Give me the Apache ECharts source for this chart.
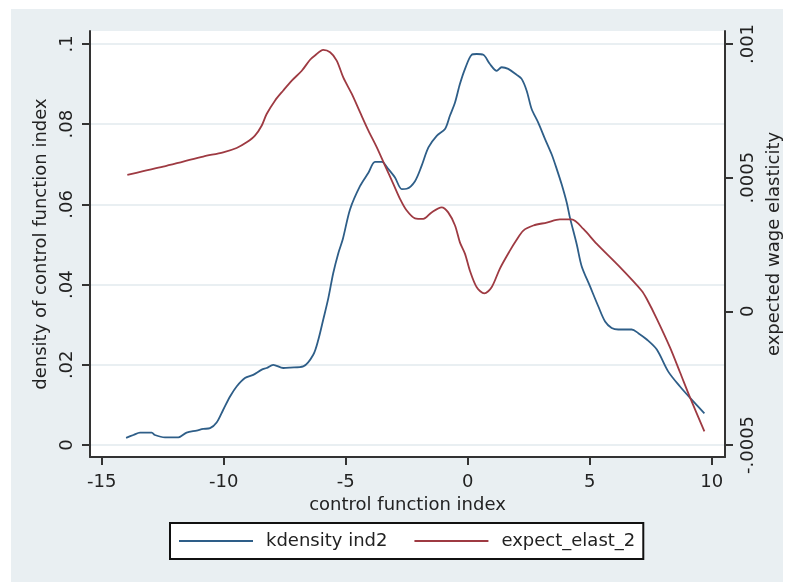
<!DOCTYPE html>
<html>
<head>
<meta charset="utf-8">
<script src="https://cdn.jsdelivr.net/npm/echarts@6/dist/echarts.min.js"></script>
<style>
html,body{margin:0;padding:0;background:#ffffff;}
#bg{position:absolute;left:11px;top:9px;width:772px;height:573px;background:#e9eff2;}
#c{position:absolute;left:0;top:0;width:791px;height:582px;}
</style>
</head>
<body>
<div id="bg"></div>
<div id="c"></div>
<script>
// ---- data ----
const seriesNames = ['kdensity ind2', 'expect_elast_2'];

const xTicks = [-15, -10, -5, 0, 5, 10];
const xTickLabels = ['-15', '-10', '-5', '0', '5', '10'];

const densTicks = [0, 0.02, 0.04, 0.06, 0.08, 0.1];
const densTickLabels = ['0', '.02', '.04', '.06', '.08', '.1'];

const elastTicks = [-0.0005, 0, 0.0005, 0.001];
const elastTickLabels = ['-.0005', '0', '.0005', '.001'];

const densX = [-14.0,-13.70,-13.43,-12.95,-12.82,-12.41,-11.86,-11.52,-11.11,-10.84,-10.56,-10.29,-10.02,-9.74,-9.47,-9.13,-8.79,-8.44,-8.24,-7.97,-7.56,-7.28,-6.74,-6.33,-6.12,-5.92,-5.71,-5.51,-5.30,-5.12,-4.82,-4.41,-4.07,-3.80,-3.52,-3.25,-2.98,-2.70,-2.50,-2.16,-1.89,-1.61,-1.27,-0.93,-0.73,-0.52,-0.32,-0.11,0.16,0.37,0.64,0.91,1.19,1.39,1.66,2.01,2.21,2.42,2.62,2.89,3.17,3.44,3.65,3.85,4.06,4.19,4.47,4.67,5.01,5.35,5.63,5.90,6.17,6.72,6.99,7.34,7.75,8.22,8.70,9.18,9.70];
const densY = [0.0018,0.0025,0.0031,0.0031,0.0025,0.0019,0.0019,0.0031,0.0036,0.0040,0.0042,0.0056,0.0088,0.0121,0.0146,0.0167,0.0175,0.0188,0.0192,0.0200,0.0192,0.0193,0.0196,0.0225,0.0263,0.0313,0.0367,0.0429,0.0479,0.0513,0.0588,0.0646,0.0679,0.0706,0.0706,0.0688,0.0667,0.0638,0.0639,0.0658,0.0696,0.0742,0.0771,0.0788,0.0821,0.0854,0.0900,0.0938,0.0973,0.0975,0.0973,0.0950,0.0933,0.0942,0.0938,0.0923,0.0913,0.0883,0.0838,0.0804,0.0763,0.0725,0.0688,0.0650,0.0604,0.0567,0.0500,0.0446,0.0396,0.0346,0.0308,0.0292,0.0288,0.0288,0.0279,0.0263,0.0238,0.0183,0.0146,0.0113,0.0079];

const elastX = [-13.95,-13.30,-12.48,-11.66,-10.84,-10.02,-9.47,-9.06,-8.72,-8.44,-8.24,-7.90,-7.56,-7.21,-6.80,-6.46,-6.26,-5.92,-5.64,-5.37,-5.10,-4.75,-4.41,-4.07,-3.73,-3.39,-3.05,-2.77,-2.50,-2.16,-1.82,-1.48,-1.07,-0.80,-0.52,-0.32,-0.11,0.09,0.37,0.68,0.98,1.32,1.73,1.98,2.28,2.69,3.24,3.78,4.26,4.74,5.29,6.24,7.13,7.34,7.75,8.29,8.70,9.11,9.70];
const elastY = [0.000510,0.000524,0.000541,0.000560,0.000579,0.000595,0.000611,0.000632,0.000657,0.000695,0.000738,0.000788,0.000826,0.000863,0.000900,0.000941,0.000957,0.000978,0.000969,0.000938,0.000875,0.000813,0.000744,0.000676,0.000614,0.000545,0.000477,0.000420,0.000377,0.000348,0.000346,0.000370,0.000389,0.000370,0.000321,0.000258,0.000215,0.000152,0.000090,0.000067,0.000090,0.000160,0.000227,0.000264,0.000302,0.000321,0.000332,0.000344,0.000344,0.000308,0.000252,0.000165,0.000077,0.000046,-0.000028,-0.000135,-0.000228,-0.000322,-0.000449];

// ---- chart ----
const FONT = 'DejaVu Sans';
const AXC = '#333333';
function labelFor(ticks, labels) {
  return function (v) {
    const i = ticks.findIndex(t => Math.abs(t - v) < 1e-9);
    return i >= 0 ? labels[i] : '';
  };
}
const zip = (a, b) => a.map((x, i) => [x, b[i]]);

const chart = echarts.init(document.getElementById('c'), null, {renderer: 'canvas'});
chart.setOption({
  animation: false,
  textStyle: {fontFamily: FONT},
  grid: {left: 90, top: 31, right: 66, bottom: 125, show: true, backgroundColor: '#ffffff', borderWidth: 0},
  legend: {
    data: seriesNames,
    left: 170, top: 523,
    orient: 'horizontal',
    itemWidth: 74, itemHeight: 14, itemGap: 26,
    padding: [9, 8, 9, 8],
    borderColor: '#111111', borderWidth: 2, backgroundColor: '#ffffff', borderRadius: 0,
    itemStyle: {opacity: 0},
    lineStyle: {width: 2},
    textStyle: {fontSize: 18, color: '#222222', fontFamily: FONT, padding: [0, 0, 0, 8]}
  },
  xAxis: {
    type: 'value', min: -15.48, max: 10.545,
    name: 'control function index', nameLocation: 'middle', nameGap: 28,
    nameTextStyle: {fontSize: 18, color: '#222222', fontFamily: FONT},
    axisLine: {show: true, onZero: false, lineStyle: {color: AXC, width: 2}},
    axisTick: {show: true, length: 8, customValues: xTicks, lineStyle: {color: AXC, width: 2}},
    axisLabel: {customValues: xTicks, formatter: labelFor(xTicks, xTickLabels), fontSize: 18, color: '#222222', margin: 16, fontFamily: FONT},
    splitLine: {show: false}
  },
  yAxis: [{
    type: 'value', position: 'left', min: -0.00299, max: 0.10324,
    name: 'density of control function index', nameLocation: 'middle', nameGap: 35, nameRotate: 90,
    nameTextStyle: {fontSize: 18, color: '#222222', fontFamily: FONT},
    axisLine: {show: true, onZero: false, lineStyle: {color: AXC, width: 2}},
    axisTick: {show: true, length: 8, customValues: densTicks, lineStyle: {color: AXC, width: 2}},
    axisLabel: {customValues: densTicks, formatter: labelFor(densTicks, densTickLabels), rotate: 90, fontSize: 18, color: '#222222', margin: 14, fontFamily: FONT},
    splitLine: {show: true, lineStyle: {color: '#e2eaee', width: 1.5}}
  }, {
    type: 'value', position: 'right', min: -0.000545, max: 0.0010486,
    name: 'expected wage elasticity', nameLocation: 'middle', nameGap: 30, nameRotate: 90,
    nameTextStyle: {fontSize: 18, color: '#222222', fontFamily: FONT},
    axisLine: {show: true, onZero: false, lineStyle: {color: AXC, width: 2}},
    axisTick: {show: true, length: 8, customValues: elastTicks, lineStyle: {color: AXC, width: 2}},
    axisLabel: {customValues: elastTicks, formatter: labelFor(elastTicks, elastTickLabels), rotate: 90, fontSize: 18, color: '#222222', margin: 14, fontFamily: FONT},
    splitLine: {show: false}
  }],
  series: [{
    name: seriesNames[0], type: 'line', yAxisIndex: 0, data: zip(densX, densY),
    symbol: 'none', smooth: 0.3,
    lineStyle: {color: '#2e5e88', width: 1.8}, itemStyle: {color: '#2e5e88'}
  }, {
    name: seriesNames[1], type: 'line', yAxisIndex: 1, data: zip(elastX, elastY),
    symbol: 'none', smooth: 0.3,
    lineStyle: {color: '#9e3a42', width: 1.8}, itemStyle: {color: '#9e3a42'}
  }]
});
</script>
</body>
</html>
